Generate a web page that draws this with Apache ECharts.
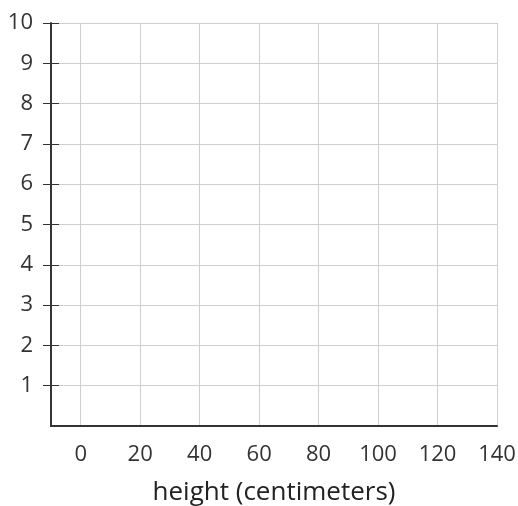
<!DOCTYPE html>
<html>
<head>
<meta charset="utf-8">
<script src="https://cdn.jsdelivr.net/npm/echarts@6/dist/echarts.min.js"></script>
<style>
  html, body { margin: 0; padding: 0; background: #fff; }
  #chart { width: 518px; height: 506px; }
</style>
</head>
<body>
<div id="chart"></div>
<script>
// axis ranges and steps
var xRange = [-10, 140];
var xLabelStep = 20;
var yRange = [0, 10];
var yStep = 1;
var xName = 'height (centimeters)';
// the grid is empty: no plotted points
var points = [];

var myChart = echarts.init(document.getElementById('chart'));

var font = '"Open Sans", sans-serif';

option = {
	animation : false,
	grid : {
		left : 51,
		right : 21,
		top : 23,
		bottom : 80,
		outerBoundsMode : 'none'
	},
	xAxis : {
		type : 'value',
		min : xRange[0],
		max : xRange[1],
		// ticks start at min (-10), so step by 10 and show every other one
		interval : xLabelStep / 2,
		name : xName,
		nameLocation : 'middle',
		nameGap : 54,
		nameTextStyle : {
			color : '#222',
			fontSize : 26,
			fontFamily : font
		},
		axisLine : {
			onZero : false,
			lineStyle : { color : '#333', width : 2 }
		},
		axisTick : { show : false },
		axisLabel : {
			showMinLabel : false,
			color : '#333',
			fontSize : 22,
			fontFamily : font,
			margin : 18,
			formatter : function(v) {
				return v % xLabelStep === 0 ? String(v) : '';
			}
		},
		splitLine : {
			show : true,
			lineStyle : { color : ['transparent', '#cfcfcf'], width : 1 }
		}
	},
	yAxis : [ {
		type : 'value',
		min : yRange[0],
		max : yRange[1],
		interval : yStep,
		axisLine : {
			show : true,
			onZero : false,
			lineStyle : { color : '#333', width : 2 }
		},
		axisTick : {
			show : true,
			length : 8,
			lineStyle : { color : '#333', width : 1 }
		},
		axisLabel : {
			showMinLabel : false,
			color : '#333',
			fontSize : 22,
			fontFamily : font,
			margin : 18
		},
		splitLine : {
			show : true,
			lineStyle : { color : '#cfcfcf', width : 1 }
		}
	}, {
		// second copy only for the inner half of the crossing ticks
		type : 'value',
		position : 'left',
		min : yRange[0],
		max : yRange[1],
		interval : yStep,
		axisLine : { show : false, onZero : false },
		axisTick : {
			show : true,
			inside : true,
			length : 8,
			lineStyle : { color : '#333', width : 1 }
		},
		axisLabel : { show : false },
		splitLine : { show : false }
	} ],
	series : [ {
		type : 'scatter',
		data : points
	} ]
};

myChart.setOption(option);
</script>
</body>
</html>
